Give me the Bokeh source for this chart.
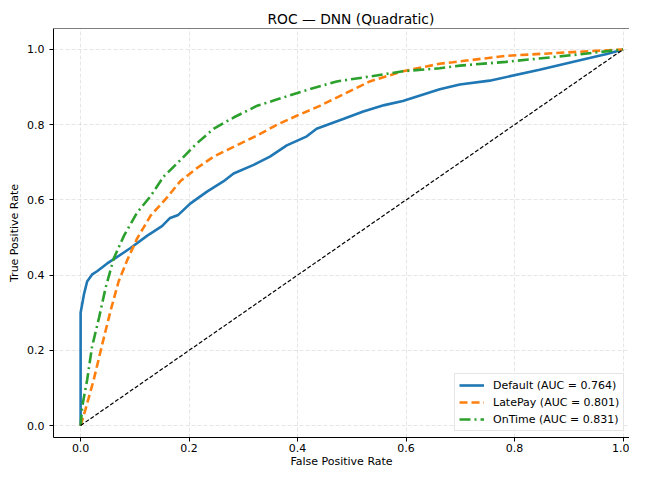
from bokeh.plotting import figure
from bokeh.models import FixedTicker, NumeralTickFormatter, Span, Range1d
from bokeh.embed import file_html
from bokeh.resources import INLINE

# ---- data ----
default_fpr = [0.0, 0.0, 0.006, 0.012, 0.0215, 0.031, 0.049, 0.064, 0.092, 0.123, 0.150, 0.165,
               0.180, 0.202, 0.233, 0.263, 0.282, 0.319, 0.349, 0.380, 0.417, 0.435, 0.484,
               0.521, 0.560, 0.594, 0.662, 0.699, 0.754, 0.846, 0.938, 0.970, 1.0]
default_tpr = [0.0, 0.30, 0.348, 0.383, 0.402, 0.411, 0.431, 0.445, 0.472, 0.505, 0.530, 0.552,
               0.560, 0.590, 0.622, 0.649, 0.670, 0.693, 0.715, 0.745, 0.769, 0.789, 0.815,
               0.835, 0.852, 0.863, 0.894, 0.907, 0.917, 0.946, 0.977, 0.988, 1.0]

latepay_fpr = [0.0, 0.009, 0.024, 0.040, 0.055, 0.070, 0.086, 0.104, 0.129, 0.159, 0.184, 0.214,
               0.245, 0.282, 0.325, 0.362, 0.402, 0.441, 0.472, 0.533, 0.594, 0.662, 0.686,
               0.784, 0.907, 1.0]
latepay_tpr = [0.0, 0.043, 0.121, 0.217, 0.304, 0.383, 0.440, 0.497, 0.558, 0.606, 0.650, 0.684,
               0.715, 0.741, 0.771, 0.800, 0.826, 0.850, 0.872, 0.915, 0.942, 0.962, 0.966,
               0.983, 0.993, 1.0]

ontime_fpr = [0.0, 0.003, 0.012, 0.021, 0.034, 0.046, 0.061, 0.080, 0.104, 0.129, 0.153, 0.184,
              0.214, 0.245, 0.282, 0.325, 0.360, 0.410, 0.472, 0.533, 0.594, 0.662, 0.699,
              0.784, 0.907, 1.0]
ontime_tpr = [0.0, 0.051, 0.121, 0.209, 0.287, 0.366, 0.444, 0.505, 0.566, 0.610, 0.662, 0.706,
              0.750, 0.789, 0.819, 0.850, 0.866, 0.889, 0.915, 0.928, 0.942, 0.950, 0.957,
              0.967, 0.985, 1.0]

chance_fpr = [0.0, 1.0]
chance_tpr = [0.0, 1.0]

series_labels = ["Default (AUC = 0.764)", "LatePay (AUC = 0.801)", "OnTime (AUC = 0.831)"]
ticks = [0.0, 0.2, 0.4, 0.6, 0.8, 1.0]

FONT = "DejaVu Sans"

p = figure(width=629, height=470, output_backend="svg", toolbar_location=None,
           x_range=Range1d(-0.05, 1.0118), y_range=Range1d(-0.0318, 1.0557),
           min_border_left=53, min_border_right=0, min_border_top=28, min_border_bottom=32,
           title="ROC — DNN (Quadratic)",
           x_axis_label="False Positive Rate", y_axis_label="True Positive Rate")

p.background_fill_color = "white"
p.border_fill_color = "white"
p.outline_line_color = None

p.title.text_font = FONT
p.title.text_font_size = "13.8px"
p.title.text_font_style = "normal"
p.title.text_color = "black"
p.title.align = "left"
p.title.offset = 214
p.title.standoff = 3

for ax in (p.xaxis[0], p.yaxis[0]):
    ax.ticker = FixedTicker(ticks=ticks)
    ax.formatter = NumeralTickFormatter(format="0.0")
    ax.axis_line_color = "black"
    ax.axis_line_width = 1
    ax.major_tick_line_color = "black"
    ax.major_tick_out = 4
    ax.major_tick_in = 0
    ax.minor_tick_line_color = None
    ax.major_label_text_font = FONT
    ax.major_label_text_font_size = "11px"
    ax.major_label_text_color = "black"
    ax.axis_label_text_font = FONT
    ax.axis_label_text_font_size = "11px"
    ax.axis_label_text_font_style = "normal"
    ax.axis_label_text_color = "black"

p.xaxis.major_label_standoff = 2
p.xaxis.axis_label_standoff = 0
p.yaxis.major_label_standoff = 5
p.yaxis.axis_label_standoff = 3

for g in (p.xgrid[0], p.ygrid[0]):
    g.ticker = FixedTicker(ticks=ticks)
    g.grid_line_color = "#b0b0b0"
    g.grid_line_alpha = 0.4
    g.grid_line_dash = "4 2"
    g.grid_line_width = 0.8

# top spine
p.add_layout(Span(location=1.0557, dimension="width", line_color="black", line_width=1))

p.line(default_fpr, default_tpr, line_color="#1f77b4", line_width=2.6,
       legend_label=series_labels[0])
p.line(latepay_fpr, latepay_tpr, line_color="#ff7f0e", line_width=2.6, line_dash="8 4",
       legend_label=series_labels[1])
p.line(ontime_fpr, ontime_tpr, line_color="#2ca02c", line_width=2.6, line_dash="11 4 2 4",
       legend_label=series_labels[2])
p.line(chance_fpr, chance_tpr, line_color="black", line_width=1.2, line_dash="4 2")

lg = p.legend[0]
lg.location = (401, 6)
lg.label_text_font = FONT
lg.label_text_font_size = "11px"
lg.label_text_color = "black"
lg.glyph_width = 25
lg.glyph_height = 14
lg.label_height = 14
lg.spacing = 3
lg.padding = 4
lg.margin = 0
lg.label_standoff = 9
lg.border_line_color = "#cccccc"
lg.border_line_width = 1
lg.background_fill_color = "white"
lg.background_fill_alpha = 0.8

open("out.html", "w").write(file_html(p, INLINE))
